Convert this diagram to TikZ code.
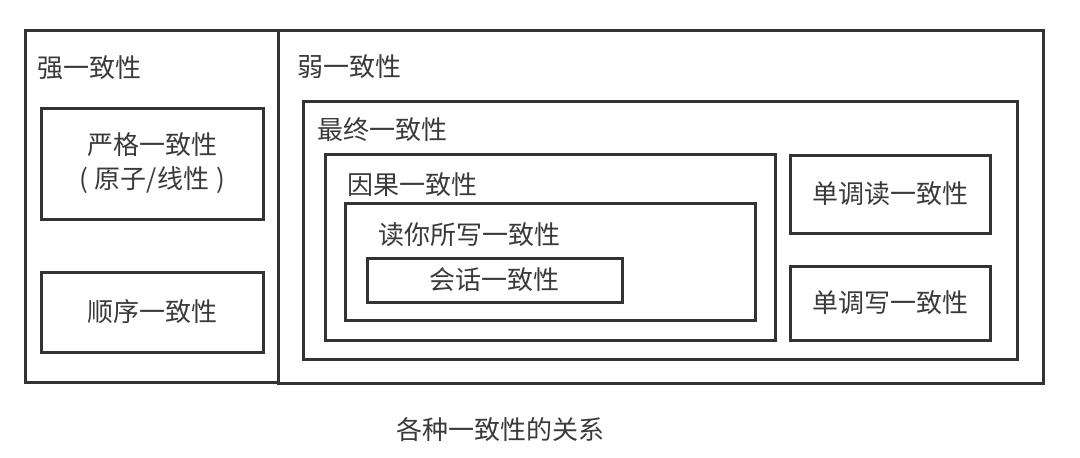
\documentclass[tikz,border=0pt]{standalone}
\usepackage{fontspec}
\usepackage{xcolor}
\usepackage{tikz}
\usetikzlibrary{positioning}
\newfontfamily\cjk{Noto Sans CJK SC}
\definecolor{linecolor}{HTML}{333333}
\definecolor{textcolor}{HTML}{3A3A3A}

\begin{document}
\begin{tikzpicture}[
    x=0.5pt, y=-0.5pt,
    box/.style={draw=linecolor, line width=1.5pt, inner sep=0pt, font=\cjk\fontsize{13}{17}\selectfont, text=textcolor, align=center},
    title/.style={anchor=west, inner sep=0pt, font=\cjk\fontsize{13}{16}\selectfont, text=textcolor},
  ]
  \useasboundingbox (0,0) rectangle (1080,457);
  % outer boxes
  \node[box, minimum width=126.5pt, minimum height=176pt] (strong) at (151.5,206) {};
  \node[box, minimum width=382.5pt, minimum height=176.5pt] (weak) at (660.5,206.5) {};
  \node[title] (strongtitle) at (37,68) {强一致性};
  \node[title] (weaktitle) at (297,67) {弱一致性};
  % strong side
  \node[box, minimum width=111pt, minimum height=55.5pt] (strict) at (152,163.5) {严格一致性\\(\hspace{3.5pt}原子/线性\hspace{3.5pt})};
  \node[box, minimum width=111pt, minimum height=40pt] (seq) at (152,312) {顺序一致性};
  % weak side
  \node[box, minimum width=357pt, minimum height=129pt] (eventual) at (660,230) {};
  \node[title] (eventualtitle) at (317,130) {最终一致性};
  \node[box, minimum width=225pt, minimum height=93pt] (causal) at (550,247) {};
  \node[title] (causaltitle) at (347,185) {因果一致性};
  \node[box, minimum width=205pt, minimum height=58.5pt] (ryw) at (550,261.5) {};
  \node[title] (rywtitle) at (378,235) {读你所写一致性};
  \node[box, minimum width=127.5pt, minimum height=22pt] (session) at (494.5,280) {会话一致性};
  \node[box, minimum width=100pt, minimum height=39pt] (monoread) at (890,194) {单调读一致性};
  \node[box, minimum width=100pt, minimum height=37pt] (monowrite) at (890,303) {单调写一致性};
  % caption
  \node[title, anchor=center] (caption) at (500,430) {各种一致性的关系};
\end{tikzpicture}
\end{document}
